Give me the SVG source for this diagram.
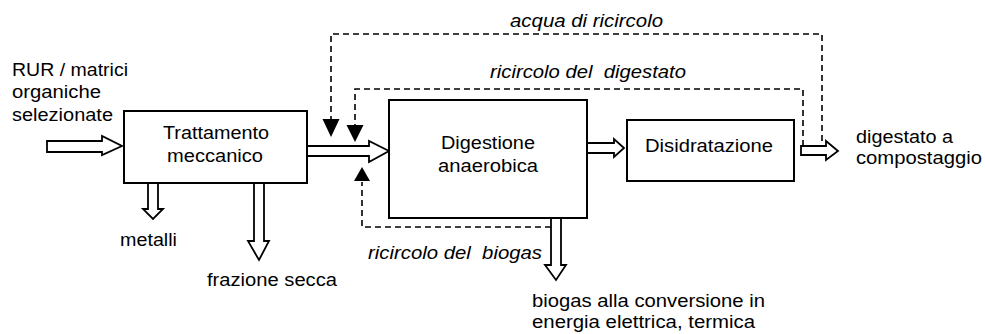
<svg xmlns="http://www.w3.org/2000/svg" width="985" height="334" viewBox="0 0 985 334">
<style>
text{font-family:"Liberation Sans",Arial,sans-serif;font-size:17.5px;fill:#000}
.it{font-style:italic}
.box{fill:#fff;stroke:#000;stroke-width:2}
.fat{fill:#fff;stroke:#000;stroke-width:1.8;stroke-linejoin:miter}
.dash{fill:none;stroke:#000;stroke-width:1.6;stroke-dasharray:6 4}
.head{fill:#000;stroke:none}
</style>
<rect width="985" height="334" fill="#fff"/>
<g id="connectors">
<path class="fat" d="M47,141 H102 V136 L122,146 L102,155 V152 H47 Z"/>
<path class="fat" d="M307,146 H369 V141 L389,151 L369,162 V156 H307 Z"/>
<path class="fat" d="M587,143 H614 V139 L624,148 L614,157 V153 H587 Z"/>
<path class="fat" d="M801,146 H826 V141 L838,151 L826,160 V155 H801 Z"/>
<path class="fat" d="M148,183 V209 H143 L153,219 L163,209 H158 V183 Z"/>
<path class="fat" d="M254,183 V241 H248 L259,260 L269,241 H264 V183 Z"/>
<path class="fat" d="M551,218 V265 H545 L556,280 L566,265 H561 V218 Z"/>
<path class="dash" d="M822,141 V34 H331 V120"/>
<path class="head" d="M322.5,119 H339.5 L331,137 Z"/>
<path class="dash" d="M803,146 V89 H355 V126"/>
<path class="head" d="M346.5,125 H363.5 L355,142 Z"/>
<path class="dash" d="M551,227 H362 V182"/>
<path class="head" d="M354,181 H370 L362,167 Z"/>
</g>
<g id="input-label">
<text x="12" y="76" textLength="116" lengthAdjust="spacingAndGlyphs">RUR / matrici</text>
<text x="12" y="98" textLength="89" lengthAdjust="spacingAndGlyphs">organiche</text>
<text x="12" y="121" textLength="101" lengthAdjust="spacingAndGlyphs">selezionate</text>
</g>
<g id="trattamento">
<rect class="box" x="124" y="111" width="183" height="72"/>
<text x="163" y="139" textLength="106" lengthAdjust="spacingAndGlyphs">Trattamento</text>
<text x="167" y="162" textLength="96" lengthAdjust="spacingAndGlyphs">meccanico</text>
</g>
<g id="digestione">
<rect class="box" x="389" y="100" width="198" height="118"/>
<text x="441" y="149" textLength="94" lengthAdjust="spacingAndGlyphs">Digestione</text>
<text x="438" y="172" textLength="100" lengthAdjust="spacingAndGlyphs">anaerobica</text>
</g>
<g id="disidratazione">
<rect class="box" x="627" y="120" width="167" height="61"/>
<text x="645" y="152" textLength="128" lengthAdjust="spacingAndGlyphs">Disidratazione</text>
</g>
<g id="outputs">
<text x="856" y="143" textLength="97" lengthAdjust="spacingAndGlyphs">digestato a</text>
<text x="856" y="164" textLength="126" lengthAdjust="spacingAndGlyphs">compostaggio</text>
<text x="120" y="246" textLength="57" lengthAdjust="spacingAndGlyphs">metalli</text>
<text x="207" y="286" textLength="130" lengthAdjust="spacingAndGlyphs">frazione secca</text>
<text x="532" y="307" textLength="233" lengthAdjust="spacingAndGlyphs">biogas alla conversione in</text>
<text x="532" y="328" textLength="223" lengthAdjust="spacingAndGlyphs">energia elettrica, termica</text>
</g>
<g id="flow-labels">
<text class="it" x="510" y="27" textLength="153" lengthAdjust="spacingAndGlyphs">acqua di ricircolo</text>
<text class="it" x="490" y="78" textLength="196" lengthAdjust="spacingAndGlyphs" xml:space="preserve">ricircolo del  digestato</text>
<text class="it" x="368" y="259" textLength="174" lengthAdjust="spacingAndGlyphs" xml:space="preserve">ricircolo del  biogas</text>
</g>
</svg>
